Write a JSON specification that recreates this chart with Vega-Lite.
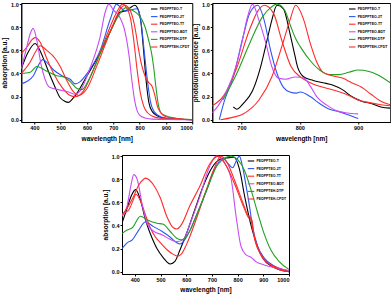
{
"$schema":"https://vega.github.io/schema/vega-lite/v6.json",
"padding":{"left":1,"top":1,"right":0,"bottom":0},
"config":{"font":"Liberation Sans","view":{"stroke":"black","strokeWidth":1},
"axis":{"labelFont":"Liberation Sans","titleFont":"Liberation Sans","labelFontSize":5.5,"labelFontWeight":"bold","labelColor":"black","titleFontSize":6.5,"titleFontWeight":"bold","titleColor":"black","domainColor":"black","tickColor":"black","tickSize":2,"labelPadding":1,"titlePadding":3,"grid":false},
"legend":{"orient":"top-right","offset":2,"padding":0,"labelFontSize":3.5,"labelFontWeight":"bold","labelFont":"Liberation Sans","symbolType":"stroke","symbolSize":42,"symbolStrokeWidth":1.2,"rowPadding":0.6,"labelOffset":1.5,"title":null},
"line":{"strokeWidth":1.1,"interpolate":"monotone"}},
"datasets":{
"abs1":[
{"s":"T","x":350,"y":0.44},{"s":"T","x":375,"y":0.58},{"s":"T","x":403,"y":0.66},{"s":"T","x":425,"y":0.58},{"s":"T","x":441,"y":0.49},{"s":"T","x":460,"y":0.38},{"s":"T","x":475,"y":0.3},{"s":"T","x":498,"y":0.19},{"s":"T","x":515,"y":0.16},{"s":"T","x":530,"y":0.15},{"s":"T","x":545,"y":0.18},{"s":"T","x":562,"y":0.23},{"s":"T","x":600,"y":0.38},{"s":"T","x":650,"y":0.58},{"s":"T","x":700,"y":0.82},{"s":"T","x":725,"y":0.93},{"s":"T","x":745,"y":0.94},{"s":"T","x":765,"y":0.97},{"s":"T","x":781,"y":0.99},{"s":"T","x":795,"y":0.95},{"s":"T","x":805,"y":0.84},{"s":"T","x":815,"y":0.6},{"s":"T","x":825,"y":0.33},{"s":"T","x":835,"y":0.15},{"s":"T","x":848,"y":0.07},{"s":"T","x":870,"y":0.03},{"s":"T","x":900,"y":0.012},{"s":"T","x":950,"y":0.004},{"s":"T","x":1000,"y":0.0},
{"s":"2T","x":350,"y":0.31},{"s":"2T","x":371,"y":0.33},{"s":"2T","x":396,"y":0.38},{"s":"2T","x":415,"y":0.47},{"s":"2T","x":432,"y":0.52},{"s":"2T","x":445,"y":0.5},{"s":"2T","x":473,"y":0.43},{"s":"2T","x":505,"y":0.38},{"s":"2T","x":536,"y":0.35},{"s":"2T","x":555,"y":0.31},{"s":"2T","x":574,"y":0.33},{"s":"2T","x":600,"y":0.4},{"s":"2T","x":650,"y":0.6},{"s":"2T","x":690,"y":0.88},{"s":"2T","x":712,"y":1.0},{"s":"2T","x":728,"y":0.97},{"s":"2T","x":745,"y":0.94},{"s":"2T","x":765,"y":0.95},{"s":"2T","x":790,"y":0.96},{"s":"2T","x":805,"y":0.85},{"s":"2T","x":818,"y":0.58},{"s":"2T","x":828,"y":0.37},{"s":"2T","x":840,"y":0.17},{"s":"2T","x":855,"y":0.07},{"s":"2T","x":880,"y":0.025},{"s":"2T","x":910,"y":0.01},{"s":"2T","x":950,"y":0.004},{"s":"2T","x":1000,"y":0.0},
{"s":"TT","x":350,"y":0.57},{"s":"TT","x":375,"y":0.64},{"s":"TT","x":390,"y":0.69},{"s":"TT","x":403,"y":0.71},{"s":"TT","x":422,"y":0.67},{"s":"TT","x":447,"y":0.53},{"s":"TT","x":473,"y":0.4},{"s":"TT","x":505,"y":0.28},{"s":"TT","x":536,"y":0.21},{"s":"TT","x":555,"y":0.2},{"s":"TT","x":587,"y":0.25},{"s":"TT","x":625,"y":0.44},{"s":"TT","x":663,"y":0.66},{"s":"TT","x":700,"y":0.87},{"s":"TT","x":720,"y":0.96},{"s":"TT","x":735,"y":1.0},{"s":"TT","x":750,"y":0.97},{"s":"TT","x":765,"y":0.88},{"s":"TT","x":777,"y":0.7},{"s":"TT","x":790,"y":0.44},{"s":"TT","x":802,"y":0.24},{"s":"TT","x":815,"y":0.12},{"s":"TT","x":830,"y":0.06},{"s":"TT","x":860,"y":0.02},{"s":"TT","x":900,"y":0.008},{"s":"TT","x":1000,"y":0.0},
{"s":"BDT","x":350,"y":0.44},{"s":"BDT","x":370,"y":0.62},{"s":"BDT","x":385,"y":0.75},{"s":"BDT","x":395,"y":0.79},{"s":"BDT","x":410,"y":0.68},{"s":"BDT","x":425,"y":0.48},{"s":"BDT","x":439,"y":0.36},{"s":"BDT","x":458,"y":0.28},{"s":"BDT","x":491,"y":0.26},{"s":"BDT","x":530,"y":0.24},{"s":"BDT","x":554,"y":0.22},{"s":"BDT","x":574,"y":0.25},{"s":"BDT","x":612,"y":0.45},{"s":"BDT","x":650,"y":0.72},{"s":"BDT","x":669,"y":0.93},{"s":"BDT","x":683,"y":1.0},{"s":"BDT","x":700,"y":0.95},{"s":"BDT","x":726,"y":0.88},{"s":"BDT","x":740,"y":0.8},{"s":"BDT","x":750,"y":0.7},{"s":"BDT","x":760,"y":0.55},{"s":"BDT","x":770,"y":0.35},{"s":"BDT","x":780,"y":0.18},{"s":"BDT","x":790,"y":0.08},{"s":"BDT","x":800,"y":0.04},{"s":"BDT","x":820,"y":0.015},{"s":"BDT","x":850,"y":0.005},{"s":"BDT","x":1000,"y":0.0},
{"s":"DTP","x":350,"y":0.4},{"s":"DTP","x":384,"y":0.41},{"s":"DTP","x":409,"y":0.46},{"s":"DTP","x":447,"y":0.42},{"s":"DTP","x":485,"y":0.38},{"s":"DTP","x":511,"y":0.37},{"s":"DTP","x":536,"y":0.33},{"s":"DTP","x":562,"y":0.27},{"s":"DTP","x":580,"y":0.26},{"s":"DTP","x":612,"y":0.37},{"s":"DTP","x":650,"y":0.57},{"s":"DTP","x":688,"y":0.76},{"s":"DTP","x":720,"y":0.9},{"s":"DTP","x":748,"y":0.97},{"s":"DTP","x":770,"y":0.95},{"s":"DTP","x":790,"y":0.92},{"s":"DTP","x":808,"y":0.87},{"s":"DTP","x":821,"y":0.8},{"s":"DTP","x":835,"y":0.68},{"s":"DTP","x":845,"y":0.58},{"s":"DTP","x":853,"y":0.46},{"s":"DTP","x":862,"y":0.28},{"s":"DTP","x":872,"y":0.12},{"s":"DTP","x":885,"y":0.05},{"s":"DTP","x":920,"y":0.02},{"s":"DTP","x":950,"y":0.008},{"s":"DTP","x":1000,"y":0.002},
{"s":"CPDT","x":350,"y":0.4},{"s":"CPDT","x":384,"y":0.5},{"s":"CPDT","x":405,"y":0.59},{"s":"CPDT","x":422,"y":0.64},{"s":"CPDT","x":447,"y":0.6},{"s":"CPDT","x":479,"y":0.53},{"s":"CPDT","x":498,"y":0.46},{"s":"CPDT","x":523,"y":0.34},{"s":"CPDT","x":549,"y":0.24},{"s":"CPDT","x":568,"y":0.21},{"s":"CPDT","x":600,"y":0.27},{"s":"CPDT","x":638,"y":0.47},{"s":"CPDT","x":676,"y":0.69},{"s":"CPDT","x":710,"y":0.88},{"s":"CPDT","x":730,"y":0.97},{"s":"CPDT","x":745,"y":0.99},{"s":"CPDT","x":765,"y":0.94},{"s":"CPDT","x":782,"y":0.8},{"s":"CPDT","x":795,"y":0.62},{"s":"CPDT","x":808,"y":0.47},{"s":"CPDT","x":822,"y":0.37},{"s":"CPDT","x":835,"y":0.32},{"s":"CPDT","x":847,"y":0.29},{"s":"CPDT","x":857,"y":0.22},{"s":"CPDT","x":867,"y":0.12},{"s":"CPDT","x":880,"y":0.06},{"s":"CPDT","x":900,"y":0.025},{"s":"CPDT","x":950,"y":0.008},{"s":"CPDT","x":1000,"y":0.0}
],
"pl":[
{"s":"T","x":686,"y":0.11},{"s":"T","x":692,"y":0.09},{"s":"T","x":703,"y":0.14},{"s":"T","x":719,"y":0.25},{"s":"T","x":733,"y":0.46},{"s":"T","x":744,"y":0.69},{"s":"T","x":752,"y":0.86},{"s":"T","x":761,"y":0.99},{"s":"T","x":772,"y":0.96},{"s":"T","x":783,"y":0.75},{"s":"T","x":791,"y":0.57},{"s":"T","x":796,"y":0.46},{"s":"T","x":807,"y":0.37},{"s":"T","x":823,"y":0.34},{"s":"T","x":840,"y":0.32},{"s":"T","x":856,"y":0.3},{"s":"T","x":873,"y":0.26},{"s":"T","x":889,"y":0.2},{"s":"T","x":906,"y":0.16},{"s":"T","x":922,"y":0.14},{"s":"T","x":939,"y":0.11},{"s":"T","x":955,"y":0.1},
{"s":"2T","x":662,"y":0.0},{"s":"2T","x":670,"y":0.15},{"s":"2T","x":686,"y":0.37},{"s":"2T","x":703,"y":0.72},{"s":"2T","x":714,"y":0.92},{"s":"2T","x":728,"y":0.99},{"s":"2T","x":739,"y":0.86},{"s":"2T","x":750,"y":0.6},{"s":"2T","x":761,"y":0.4},{"s":"2T","x":772,"y":0.28},{"s":"2T","x":783,"y":0.24},{"s":"2T","x":794,"y":0.23},{"s":"2T","x":801,"y":0.24},{"s":"2T","x":818,"y":0.2},{"s":"2T","x":834,"y":0.14},{"s":"2T","x":851,"y":0.09},{"s":"2T","x":867,"y":0.07},{"s":"2T","x":884,"y":0.04},{"s":"2T","x":900,"y":0.01},
{"s":"TT","x":650,"y":0.12},{"s":"TT","x":670,"y":0.21},{"s":"TT","x":692,"y":0.45},{"s":"TT","x":714,"y":0.78},{"s":"TT","x":728,"y":0.94},{"s":"TT","x":739,"y":0.99},{"s":"TT","x":755,"y":0.92},{"s":"TT","x":769,"y":0.69},{"s":"TT","x":785,"y":0.46},{"s":"TT","x":801,"y":0.37},{"s":"TT","x":818,"y":0.32},{"s":"TT","x":840,"y":0.28},{"s":"TT","x":862,"y":0.25},{"s":"TT","x":884,"y":0.21},{"s":"TT","x":900,"y":0.17},{"s":"TT","x":917,"y":0.15},{"s":"TT","x":939,"y":0.13},{"s":"TT","x":955,"y":0.12},
{"s":"BDT","x":650,"y":0.06},{"s":"BDT","x":660,"y":0.12},{"s":"BDT","x":675,"y":0.25},{"s":"BDT","x":690,"y":0.45},{"s":"BDT","x":700,"y":0.65},{"s":"BDT","x":710,"y":0.88},{"s":"BDT","x":719,"y":1.0},{"s":"BDT","x":730,"y":0.86},{"s":"BDT","x":742,"y":0.66},{"s":"BDT","x":752,"y":0.46},{"s":"BDT","x":763,"y":0.36},{"s":"BDT","x":776,"y":0.35},{"s":"BDT","x":792,"y":0.37},{"s":"BDT","x":807,"y":0.36},{"s":"BDT","x":818,"y":0.29},{"s":"BDT","x":829,"y":0.2},{"s":"BDT","x":845,"y":0.13},{"s":"BDT","x":862,"y":0.08},{"s":"BDT","x":878,"y":0.06},{"s":"BDT","x":900,"y":0.05},
{"s":"DTP","x":668,"y":0.17},{"s":"DTP","x":692,"y":0.4},{"s":"DTP","x":714,"y":0.66},{"s":"DTP","x":736,"y":0.89},{"s":"DTP","x":750,"y":0.97},{"s":"DTP","x":761,"y":1.0},{"s":"DTP","x":774,"y":0.95},{"s":"DTP","x":785,"y":0.8},{"s":"DTP","x":793,"y":0.7},{"s":"DTP","x":801,"y":0.63},{"s":"DTP","x":818,"y":0.51},{"s":"DTP","x":834,"y":0.43},{"s":"DTP","x":851,"y":0.39},{"s":"DTP","x":867,"y":0.39},{"s":"DTP","x":884,"y":0.41},{"s":"DTP","x":900,"y":0.43},{"s":"DTP","x":917,"y":0.42},{"s":"DTP","x":933,"y":0.39},{"s":"DTP","x":955,"y":0.32},
{"s":"CPDT","x":664,"y":0.0},{"s":"CPDT","x":685,"y":0.02},{"s":"CPDT","x":703,"y":0.05},{"s":"CPDT","x":730,"y":0.17},{"s":"CPDT","x":752,"y":0.37},{"s":"CPDT","x":769,"y":0.63},{"s":"CPDT","x":783,"y":0.86},{"s":"CPDT","x":793,"y":0.99},{"s":"CPDT","x":807,"y":0.86},{"s":"CPDT","x":818,"y":0.66},{"s":"CPDT","x":829,"y":0.5},{"s":"CPDT","x":840,"y":0.41},{"s":"CPDT","x":856,"y":0.38},{"s":"CPDT","x":873,"y":0.36},{"s":"CPDT","x":889,"y":0.32},{"s":"CPDT","x":906,"y":0.28},{"s":"CPDT","x":922,"y":0.22},{"s":"CPDT","x":939,"y":0.16},{"s":"CPDT","x":955,"y":0.13}
],
"abs2":[
{"s":"T","x":350,"y":0.42},{"s":"T","x":370,"y":0.55},{"s":"T","x":385,"y":0.65},{"s":"T","x":403,"y":0.71},{"s":"T","x":422,"y":0.62},{"s":"T","x":441,"y":0.45},{"s":"T","x":460,"y":0.33},{"s":"T","x":486,"y":0.2},{"s":"T","x":511,"y":0.12},{"s":"T","x":537,"y":0.067},{"s":"T","x":556,"y":0.09},{"s":"T","x":576,"y":0.19},{"s":"T","x":601,"y":0.33},{"s":"T","x":634,"y":0.54},{"s":"T","x":666,"y":0.74},{"s":"T","x":700,"y":0.9},{"s":"T","x":730,"y":0.97},{"s":"T","x":760,"y":0.985},{"s":"T","x":785,"y":0.99},{"s":"T","x":800,"y":0.94},{"s":"T","x":812,"y":0.84},{"s":"T","x":825,"y":0.68},{"s":"T","x":838,"y":0.54},{"s":"T","x":850,"y":0.42},{"s":"T","x":865,"y":0.3},{"s":"T","x":880,"y":0.2},{"s":"T","x":900,"y":0.11},{"s":"T","x":930,"y":0.05},{"s":"T","x":960,"y":0.02},{"s":"T","x":1000,"y":0.0},
{"s":"2T","x":350,"y":0.2},{"s":"2T","x":370,"y":0.25},{"s":"2T","x":390,"y":0.275},{"s":"2T","x":415,"y":0.36},{"s":"2T","x":441,"y":0.43},{"s":"2T","x":473,"y":0.39},{"s":"2T","x":505,"y":0.35},{"s":"2T","x":537,"y":0.3},{"s":"2T","x":563,"y":0.25},{"s":"2T","x":576,"y":0.24},{"s":"2T","x":601,"y":0.3},{"s":"2T","x":640,"y":0.49},{"s":"2T","x":679,"y":0.7},{"s":"2T","x":711,"y":0.89},{"s":"2T","x":743,"y":0.98},{"s":"2T","x":765,"y":0.93},{"s":"2T","x":781,"y":0.9},{"s":"2T","x":795,"y":0.96},{"s":"2T","x":807,"y":1.0},{"s":"2T","x":818,"y":0.92},{"s":"2T","x":830,"y":0.78},{"s":"2T","x":846,"y":0.57},{"s":"2T","x":858,"y":0.39},{"s":"2T","x":878,"y":0.22},{"s":"2T","x":903,"y":0.12},{"s":"2T","x":942,"y":0.05},{"s":"2T","x":1000,"y":0.005},
{"s":"TT","x":350,"y":0.5},{"s":"TT","x":375,"y":0.53},{"s":"TT","x":390,"y":0.6},{"s":"TT","x":405,"y":0.67},{"s":"TT","x":420,"y":0.62},{"s":"TT","x":440,"y":0.5},{"s":"TT","x":460,"y":0.38},{"s":"TT","x":480,"y":0.3},{"s":"TT","x":500,"y":0.25},{"s":"TT","x":525,"y":0.19},{"s":"TT","x":550,"y":0.15},{"s":"TT","x":565,"y":0.135},{"s":"TT","x":580,"y":0.15},{"s":"TT","x":600,"y":0.23},{"s":"TT","x":640,"y":0.46},{"s":"TT","x":680,"y":0.72},{"s":"TT","x":710,"y":0.9},{"s":"TT","x":735,"y":1.0},{"s":"TT","x":760,"y":0.94},{"s":"TT","x":790,"y":0.78},{"s":"TT","x":820,"y":0.6},{"s":"TT","x":840,"y":0.49},{"s":"TT","x":850,"y":0.47},{"s":"TT","x":860,"y":0.35},{"s":"TT","x":880,"y":0.2},{"s":"TT","x":900,"y":0.11},{"s":"TT","x":950,"y":0.04},{"s":"TT","x":1000,"y":0.005},
{"s":"BDT","x":350,"y":0.48},{"s":"BDT","x":370,"y":0.57},{"s":"BDT","x":385,"y":0.75},{"s":"BDT","x":396,"y":0.84},{"s":"BDT","x":409,"y":0.8},{"s":"BDT","x":428,"y":0.59},{"s":"BDT","x":447,"y":0.42},{"s":"BDT","x":473,"y":0.35},{"s":"BDT","x":505,"y":0.32},{"s":"BDT","x":537,"y":0.28},{"s":"BDT","x":563,"y":0.26},{"s":"BDT","x":589,"y":0.28},{"s":"BDT","x":614,"y":0.41},{"s":"BDT","x":653,"y":0.65},{"s":"BDT","x":691,"y":0.91},{"s":"BDT","x":717,"y":1.0},{"s":"BDT","x":749,"y":0.94},{"s":"BDT","x":775,"y":0.8},{"s":"BDT","x":794,"y":0.48},{"s":"BDT","x":813,"y":0.22},{"s":"BDT","x":833,"y":0.145},{"s":"BDT","x":852,"y":0.125},{"s":"BDT","x":871,"y":0.087},{"s":"BDT","x":903,"y":0.058},{"s":"BDT","x":955,"y":0.03},{"s":"BDT","x":1000,"y":0.01},
{"s":"DTP","x":350,"y":0.33},{"s":"DTP","x":370,"y":0.36},{"s":"DTP","x":390,"y":0.38},{"s":"DTP","x":422,"y":0.48},{"s":"DTP","x":447,"y":0.45},{"s":"DTP","x":486,"y":0.42},{"s":"DTP","x":511,"y":0.41},{"s":"DTP","x":537,"y":0.35},{"s":"DTP","x":563,"y":0.29},{"s":"DTP","x":582,"y":0.275},{"s":"DTP","x":608,"y":0.33},{"s":"DTP","x":646,"y":0.52},{"s":"DTP","x":685,"y":0.74},{"s":"DTP","x":724,"y":0.93},{"s":"DTP","x":775,"y":1.0},{"s":"DTP","x":800,"y":0.97},{"s":"DTP","x":826,"y":0.88},{"s":"DTP","x":852,"y":0.71},{"s":"DTP","x":878,"y":0.51},{"s":"DTP","x":903,"y":0.33},{"s":"DTP","x":929,"y":0.19},{"s":"DTP","x":961,"y":0.09},{"s":"DTP","x":1000,"y":0.02},
{"s":"CPDT","x":350,"y":0.49},{"s":"CPDT","x":370,"y":0.55},{"s":"CPDT","x":395,"y":0.65},{"s":"CPDT","x":415,"y":0.75},{"s":"CPDT","x":434,"y":0.8},{"s":"CPDT","x":441,"y":0.81},{"s":"CPDT","x":473,"y":0.75},{"s":"CPDT","x":499,"y":0.64},{"s":"CPDT","x":524,"y":0.48},{"s":"CPDT","x":550,"y":0.38},{"s":"CPDT","x":563,"y":0.37},{"s":"CPDT","x":582,"y":0.41},{"s":"CPDT","x":614,"y":0.57},{"s":"CPDT","x":653,"y":0.74},{"s":"CPDT","x":691,"y":0.93},{"s":"CPDT","x":725,"y":1.0},{"s":"CPDT","x":760,"y":0.9},{"s":"CPDT","x":790,"y":0.75},{"s":"CPDT","x":820,"y":0.58},{"s":"CPDT","x":845,"y":0.46},{"s":"CPDT","x":855,"y":0.45},{"s":"CPDT","x":865,"y":0.3},{"s":"CPDT","x":890,"y":0.15},{"s":"CPDT","x":920,"y":0.07},{"s":"CPDT","x":960,"y":0.02},{"s":"CPDT","x":1000,"y":0.0}
]},
"vconcat":[
{"hconcat":[
{"width":171,"height":119,"data":{"name":"abs1"},"mark":{"type":"line","clip":true},
"encoding":{"x":{"field":"x","type":"quantitative","scale":{"domain":[350,1000],"nice":false,"zero":false},"axis":{"values":[400,500,600,700,800,900,1000],"format":"d","title":"wavelength [nm]","titlePadding":5}},
"y":{"field":"y","type":"quantitative","scale":{"domain":[-0.02,1.01],"nice":false,"zero":false},"axis":{"values":[0,0.2,0.4,0.6,0.8,1.0],"format":".1f","title":"absorption [a.u.]"}},
"color":{"field":"s","type":"nominal","sort":null,"scale":{"domain":["T","2T","TT","BDT","DTP","CPDT"],"range":["#000000","#2e55f5","#ff2a2a","#c84cf5","#22a022","#ff2a2a"]},"legend":{"labelExpr":"(datum.label=='DTP'||datum.label=='CPDT' ? 'PEDPPTEH-' : 'PEDPPTEO-') + datum.label"}}}},
{"width":178,"height":119,"data":{"name":"pl"},"mark":{"type":"line","clip":true},
"encoding":{"x":{"field":"x","type":"quantitative","scale":{"domain":[650,955],"nice":false,"zero":false},"axis":{"values":[700,800,900],"format":"d","title":"wavelength [nm]","titlePadding":5}},
"y":{"field":"y","type":"quantitative","scale":{"domain":[-0.02,1.01],"nice":false,"zero":false},"axis":{"values":[0,0.2,0.4,0.6,0.8,1.0],"format":".1f","title":"photoluminescence [a.u.]"}},
"color":{"field":"s","type":"nominal","sort":null,"scale":{"domain":["T","2T","TT","BDT","DTP","CPDT"],"range":["#000000","#2e55f5","#ff2a2a","#c84cf5","#22a022","#ff2a2a"]},"legend":{"labelExpr":"(datum.label=='DTP'||datum.label=='CPDT' ? 'PEDPPTEH-' : 'PEDPPTEO-') + datum.label"}}}}
],"spacing":20,"bounds":"flush","resolve":{"scale":{"color":"independent"},"legend":{"color":"independent"}}},
{"width":167,"height":119,"data":{"name":"abs2"},"mark":{"type":"line","clip":true},
"encoding":{"x":{"field":"x","type":"quantitative","scale":{"domain":[350,1000],"nice":false,"zero":false},"axis":{"values":[400,500,600,700,800,900,1000],"format":"d","labelFlush":true,"title":"wavelength [nm]","titlePadding":4}},
"y":{"field":"y","type":"quantitative","scale":{"domain":[-0.02,1.01],"nice":false,"zero":false},"axis":{"values":[0,0.2,0.4,0.6,0.8,1.0],"format":".1f","title":"absorption [a.u.]"}},
"color":{"field":"s","type":"nominal","sort":null,"scale":{"domain":["T","2T","TT","BDT","DTP","CPDT"],"range":["#000000","#2e55f5","#ff2a2a","#c84cf5","#22a022","#ff2a2a"]},"legend":{"labelExpr":"(datum.label=='DTP'||datum.label=='CPDT' ? 'PEDPPTEH-' : 'PEDPPTEO-') + datum.label"}}}}
],"spacing":10,"center":true,"resolve":{"scale":{"color":"independent"},"legend":{"color":"independent"}}
}
